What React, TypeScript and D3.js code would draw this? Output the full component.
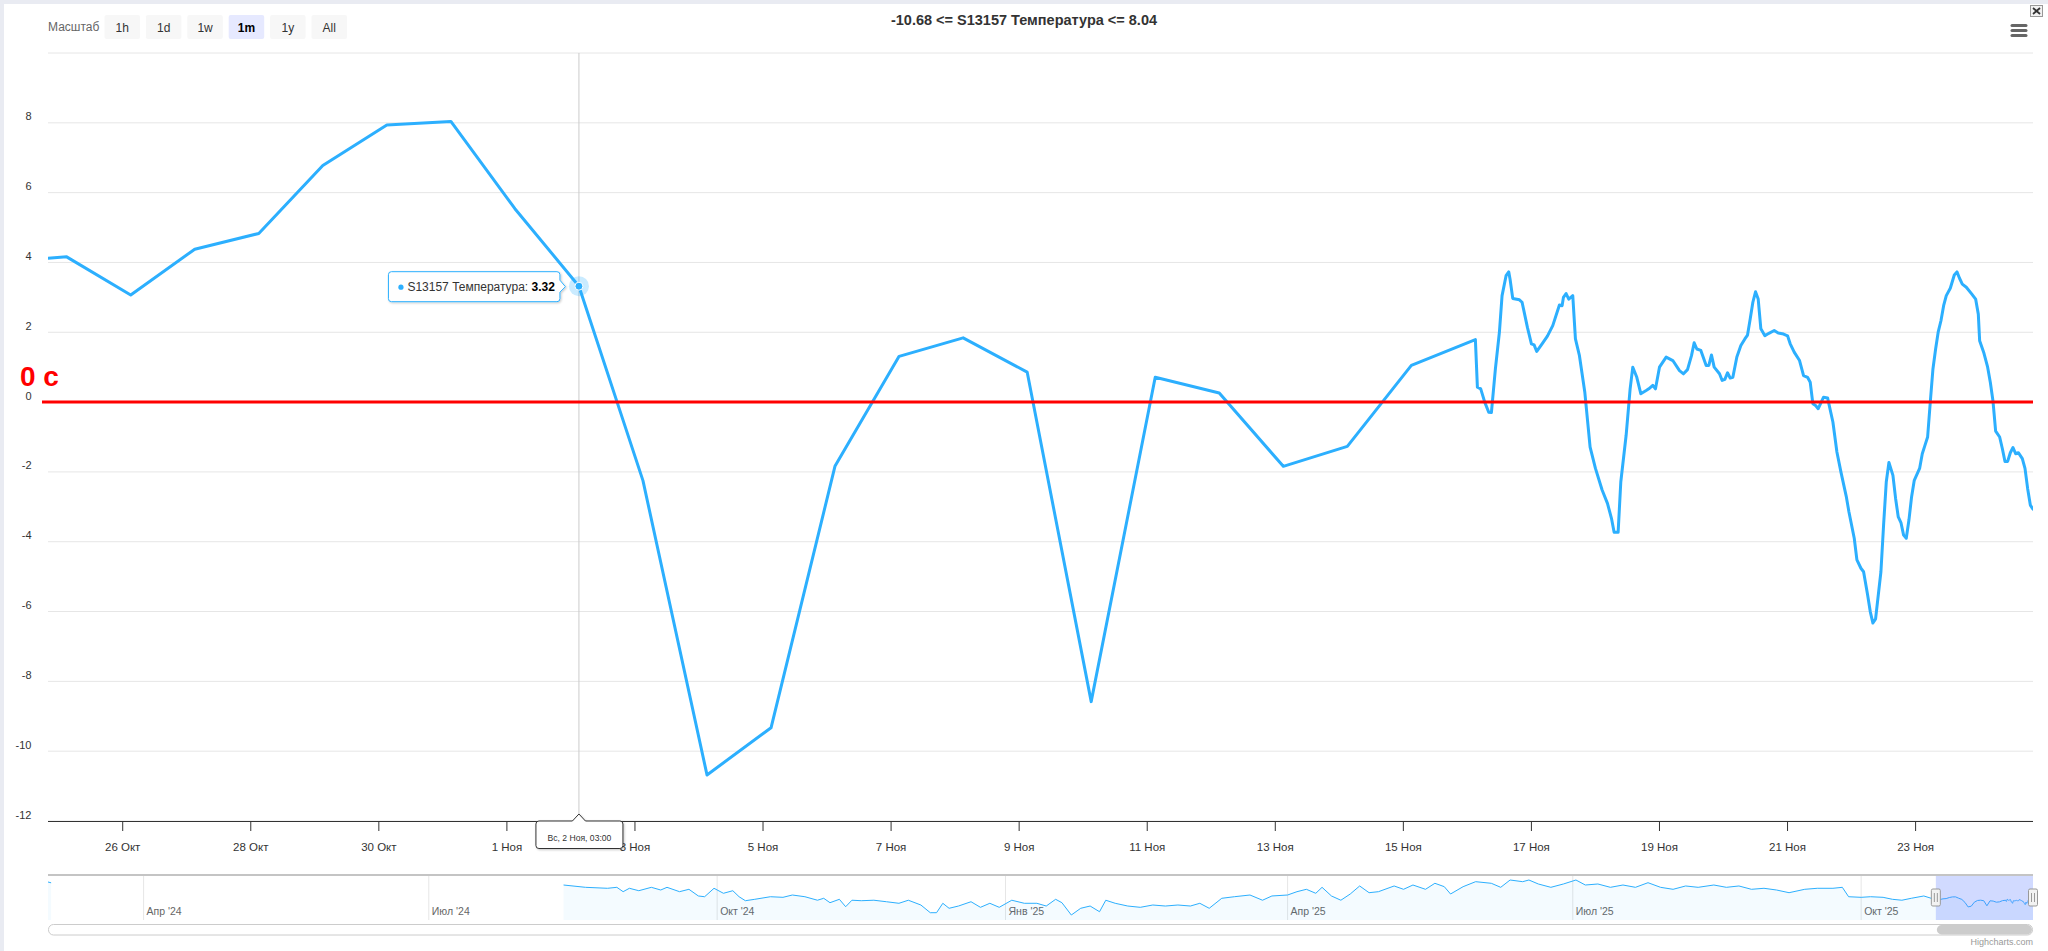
import React from "react";
import * as d3 from "d3";

// ---------------- DATA ----------------
const SERIES_NAME = "S13157 Температура";
const MONTHS_RU = ["Янв", "Фев", "Мар", "Апр", "Май", "Июн", "Июл", "Авг", "Сен", "Окт", "Ноя", "Дек"];
const WEEKDAYS_RU = ["Вс", "Пн", "Вт", "Ср", "Чт", "Пт", "Сб"];
const RANGE_BUTTONS = ["1h", "1d", "1w", "1m", "1y", "All"];
const SELECTED_BUTTON = "1m";
const RANGE_LABEL = "Масштаб";
const ZERO_LABEL = "0 c";
const CREDIT = "Highcharts.com";

// daily readings at 03:00 (UTC used as display time)
const DAILY_START = "2025-10-24T03:00:00Z";
const DAILY_VALUES = [
  4.02, 4.16, 3.07, 4.38, 4.83, 6.78, 7.94, 8.04, 5.54, 3.32, -2.25, -10.68,
  -9.33, -1.83, 1.31, 1.84, 0.86, -8.58, 0.71, 0.26, -1.84, -1.27, 1.05, 1.79,
];

// denser readings: [hours after DENSE_START, value]
const DENSE_START = "2025-11-16T00:00:00Z";
const DENSE: [number, number][] = [
  [3.75, 0.43], [5, 0.38], [6.5, 0.0], [8, -0.29], [9, -0.3], [10.5, 0.95], [12, 2.0], [13, 3.05],
  [14.5, 3.62], [15.5, 3.73], [16, 3.52], [17, 2.97], [19.5, 2.93], [20.5, 2.86], [22.5, 2.14],
  [24, 1.67], [25, 1.64], [26, 1.45], [28, 1.67], [30, 1.89], [32, 2.19], [34.5, 2.78], [35.5, 2.76],
  [36, 3.0], [37, 3.11], [38, 2.95], [39.5, 3.05], [40.5, 1.81], [42, 1.33], [44, 0.29], [46, -1.29],
  [48, -1.9], [50.5, -2.52], [52.5, -2.9], [54, -3.33], [55, -3.73], [56.5, -3.73], [57.5, -2.29],
  [59.5, -0.95], [61, 0.38], [62, 1.0], [63.5, 0.71], [65, 0.24], [67, 0.33], [68, 0.38], [69.5, 0.48],
  [70.5, 0.38], [72, 1.0], [74.5, 1.29], [77, 1.19], [79.5, 0.9], [81, 0.81], [82.5, 0.93], [84, 1.33],
  [85, 1.7], [86, 1.52], [87.5, 1.48], [89.5, 1.05], [90.5, 1.05], [91.5, 1.35], [92.5, 1.0],
  [94.5, 0.81], [95.5, 0.62], [96.5, 0.65], [97.5, 0.84], [98.5, 0.69], [99.5, 0.71], [101, 1.29],
  [102.5, 1.62], [104, 1.81], [105, 1.92], [106, 2.38], [107, 2.86], [108, 3.16], [109, 2.95],
  [110, 2.1], [111.5, 1.9], [113, 1.97], [115, 2.05], [116.5, 1.98], [118.5, 1.95], [120, 1.9],
  [121, 1.67], [122.5, 1.43], [124.5, 1.19], [126, 0.76], [127.5, 0.71], [128.5, 0.57], [129.5, -0.05],
  [130.5, -0.1], [131.5, -0.19], [132.5, -0.02], [133.5, 0.14], [135, 0.12], [137, -0.57], [138.5, -1.43],
  [140, -2.0], [142, -2.7], [143, -3.14], [145, -3.9], [146, -4.52], [147.5, -4.76], [148.5, -4.86],
  [150, -5.52], [151, -6.0], [152, -6.33], [153, -6.21], [155, -4.86], [156, -3.52], [157, -2.29],
  [158, -1.73], [159.5, -2.1], [160.5, -2.76], [161.5, -3.29], [162.5, -3.45], [163.5, -3.81],
  [164.5, -3.9], [165.5, -3.38], [166.5, -2.71], [167.5, -2.24], [169.5, -1.9], [170.5, -1.48],
  [171.5, -1.24], [172.5, -1.0], [173.5, 0.0], [174.5, 0.95], [175.5, 1.52], [176.5, 2.02],
  [177.5, 2.33], [178.5, 2.76], [179.5, 3.05], [181, 3.26], [182.5, 3.64], [183.5, 3.73], [184.5, 3.54],
  [185.5, 3.38], [187, 3.29], [189, 3.1], [190.5, 2.95], [191.5, 2.52], [192, 1.76], [193.5, 1.43],
  [195, 1.0], [196, 0.57], [197, 0.03], [198, -0.83], [199.5, -1.0], [200.5, -1.33], [201.5, -1.7],
  [202.5, -1.7], [203.5, -1.45], [204.5, -1.3], [205.5, -1.48], [206.5, -1.45], [208, -1.62],
  [209, -1.9], [210, -2.48], [211, -2.95], [212, -3.07],
];

// older history only visible in the navigator (null = gap)
const NAV_HISTORY: [string, number | null][] = [
  ["2024-03-01T12:00:00Z", 35.7], ["2024-03-02T12:00:00Z", 34.2], ["2024-03-03T12:00:00Z", null],
  ["2024-08-13", 30.1], ["2024-08-20", 25.8], ["2024-08-27", 24.0], ["2024-08-30", 25.8], ["2024-09-01", 17.7],
  ["2024-09-03", 24.0], ["2024-09-06", 19.5], ["2024-09-10", 25.8], ["2024-09-13", 20.8], ["2024-09-15", 25.8],
  ["2024-09-19", 17.7], ["2024-09-22", 22.1], ["2024-09-25", 9.7], ["2024-09-27", 8.3], ["2024-09-30", 24.0],
  ["2024-10-03", 14.7], ["2024-10-06", 19.5], ["2024-10-08", 8.3], ["2024-10-10", 0.9], ["2024-10-13", 3.5],
  ["2024-10-18", 8.3], ["2024-10-22", 7.2], ["2024-10-25", 11.5], ["2024-10-29", 8.3], ["2024-11-02", 1.8],
  ["2024-11-04", 5.4], ["2024-11-06", -2.8], ["2024-11-09", 3.5], ["2024-11-11", -10.3], ["2024-11-13", 1.8],
  ["2024-11-16", 0.9], ["2024-11-20", 1.8], ["2024-11-24", -1.0], ["2024-11-28", -3.9], ["2024-12-01", 1.8],
  ["2024-12-05", -7.1], ["2024-12-08", -21.4], ["2024-12-10", -21.4], ["2024-12-12", -3.9], ["2024-12-14", -13.2],
  ["2024-12-17", -9.0], ["2024-12-21", -1.0], ["2024-12-24", -11.4], ["2024-12-27", -3.9], ["2024-12-30", -11.4],
  ["2025-01-03", 1.8], ["2025-01-07", -3.9], ["2025-01-11", -3.9], ["2025-01-14", -9.0], ["2025-01-17", 3.5],
  ["2025-01-19", -2.8], ["2025-01-22", -25.7], ["2025-01-25", -13.2], ["2025-01-28", -9.0], ["2025-01-31", -19.6],
  ["2025-02-02", 1.8], ["2025-02-05", -3.9], ["2025-02-09", -9.0], ["2025-02-13", -11.4], ["2025-02-17", -7.1],
  ["2025-02-21", -9.0], ["2025-02-25", -7.1], ["2025-03-01", -9.0], ["2025-03-04", -3.9], ["2025-03-07", -13.2],
  ["2025-03-11", 5.4], ["2025-03-15", 8.3], ["2025-03-20", 11.5], ["2025-03-24", 1.8], ["2025-03-27", 9.7],
  ["2025-04-01", 11.5], ["2025-04-04", 17.7], ["2025-04-07", 22.1], ["2025-04-10", 14.7], ["2025-04-12", 25.8],
  ["2025-04-15", 9.7], ["2025-04-18", 1.8], ["2025-04-21", 13.4], ["2025-04-24", 28.3], ["2025-04-27", 15.8],
  ["2025-04-30", 17.7], ["2025-05-05", 28.3], ["2025-05-08", 22.1], ["2025-05-11", 30.1], ["2025-05-15", 22.1],
  ["2025-05-18", 33.3], ["2025-05-21", 27.0], ["2025-05-23", 13.4], ["2025-05-27", 27.0], ["2025-05-31", 36.3],
  ["2025-06-05", 33.3], ["2025-06-08", 25.8], ["2025-06-11", 39.4], ["2025-06-15", 36.3], ["2025-06-17", 39.4],
  ["2025-06-20", 32.0], ["2025-06-24", 25.8], ["2025-06-28", 32.0], ["2025-07-02", 39.4], ["2025-07-05", 30.1],
  ["2025-07-09", 32.0], ["2025-07-13", 25.8], ["2025-07-17", 30.1], ["2025-07-21", 25.8], ["2025-07-25", 34.4],
  ["2025-07-29", 25.8], ["2025-08-02", 22.1], ["2025-08-06", 28.3], ["2025-08-10", 25.8], ["2025-08-15", 30.1],
  ["2025-08-19", 25.8], ["2025-08-23", 28.3], ["2025-08-27", 22.1], ["2025-08-31", 24.0], ["2025-09-04", 20.8],
  ["2025-09-08", 15.8], ["2025-09-13", 22.1], ["2025-09-17", 24.0], ["2025-09-22", 24.0], ["2025-09-25", 25.8],
  ["2025-09-27", 8.3], ["2025-10-01", 7.2], ["2025-10-04", 8.3], ["2025-10-08", 7.2], ["2025-10-11", 3.5],
  ["2025-10-14", 1.8], ["2025-10-17", 5.4], ["2025-10-21", 9.7],
];

const Y_GRID = [-12, -10, -8, -6, -4, -2, 0, 2, 4, 6, 8, 10];
const Y_LABELS = [-12, -10, -8, -6, -4, -2, 0, 2, 4, 6, 8];
const HOVER_TIME = "2025-11-02T03:00:00Z";
const NAV_Y_DOMAIN = [-35, 45];

// ---------------- LAYOUT ----------------
const W = 2048;
const H = 951;
const PL = 48;
const PR = 2033;
const PT = 53;
const PB = 821;
const NAV_TOP = 875;
const NAV_BOTTOM = 920;
const FONT = "'Liberation Sans', Arial, Helvetica, sans-serif";
const BLUE = "#2caffe";

type Pt = { t: Date; v: number | null };

function buildMain(): Pt[] {
  const start = new Date(DAILY_START);
  const daily = DAILY_VALUES.map((v, i) => ({ t: d3.utcDay.offset(start, i), v }));
  const ds = new Date(DENSE_START).getTime();
  const dense = DENSE.map(([h, v]) => ({ t: new Date(ds + h * 3600 * 1000), v }));
  return [...daily, ...dense];
}

export default function App() {
  const main = buildMain();
  const xMax = main[main.length - 1].t;
  const xMin = d3.utcMonth.offset(xMax, -1);
  const x = d3.scaleUtc().domain([xMin, xMax]).range([PL, PR]);
  const y = d3.scaleLinear().domain([-12, 10]).range([PB, PT]);

  const line = d3
    .line<Pt>()
    .defined((d) => d.v !== null)
    .x((d) => x(d.t))
    .y((d) => y(d.v as number));

  // ticks every 2 days starting from 26 Oct
  const firstTick = new Date("2025-10-26T00:00:00Z");
  const xTicks = d3.utcDay.range(firstTick, xMax).filter((_, i) => i % 2 === 0);
  const fmtTick = (d: Date) => `${d.getUTCDate()} ${MONTHS_RU[d.getUTCMonth()]}`;

  const visible = main.filter((d) => d.t >= xMin && d.t <= xMax);
  const vMin = d3.min(visible, (d) => d.v as number) as number;
  const vMax = d3.max(visible, (d) => d.v as number) as number;
  const title = `${vMin.toFixed(2)} <= ${SERIES_NAME} <= ${vMax.toFixed(2)}`;

  const hoverT = new Date(HOVER_TIME);
  const hover = main.find((d) => d.t.getTime() === hoverT.getTime()) as Pt;
  const hx = x(hover.t);
  const hy = y(hover.v as number);
  const pad2 = (n: number) => String(n).padStart(2, "0");
  const hoverLabel = `${WEEKDAYS_RU[hover.t.getUTCDay()]}, ${hover.t.getUTCDate()} ${MONTHS_RU[hover.t.getUTCMonth()]}, ${pad2(
    hover.t.getUTCHours()
  )}:${pad2(hover.t.getUTCMinutes())}`;

  // navigator
  const navData: Pt[] = [
    ...NAV_HISTORY.map(([s, v]) => ({ t: new Date(s), v })),
    ...main.filter((d) => d.t > new Date("2025-10-21T12:00:00Z")),
  ];
  const nx = d3.scaleUtc().domain([navData[0].t, xMax]).range([PL, PR]);
  const ny = d3.scaleLinear().domain(NAV_Y_DOMAIN).range([NAV_BOTTOM, NAV_TOP + 2]);
  const navLine = d3
    .line<Pt>()
    .defined((d) => d.v !== null)
    .x((d) => nx(d.t))
    .y((d) => ny(d.v as number));
  const navArea = d3
    .area<Pt>()
    .defined((d) => d.v !== null)
    .x((d) => nx(d.t))
    .y0(NAV_BOTTOM)
    .y1((d) => ny(d.v as number));
  const navTicks = d3.utcMonth.every(3)!.range(navData[0].t, xMax);
  const fmtNav = (d: Date) => `${MONTHS_RU[d.getUTCMonth()]} '${String(d.getUTCFullYear()).slice(2)}`;
  const maskL = nx(xMin);
  const maskR = nx(xMax);

  const btnW = 35.5;
  const btnStep = 41.4;
  const btnX0 = 104.5;

  return (
    <svg
      width={W}
      height={H}
      style={{ position: "absolute", left: 0, top: 0, fontFamily: FONT }}
      xmlns="http://www.w3.org/2000/svg"
    >
      <defs>
        <clipPath id="plotClip">
          <rect x={PL} y={PT - 2} width={PR - PL} height={PB - PT + 4} />
        </clipPath>
        <filter id="shadow" x="-20%" y="-40%" width="140%" height="180%">
          <feDropShadow dx="1" dy="1" stdDeviation="1.2" floodColor="#000" floodOpacity="0.22" />
        </filter>
      </defs>
      <rect x={0} y={0} width={W} height={H} fill="#e9ebf2" />
      <rect x={4} y={4} width={W - 4} height={H - 4} fill="#ffffff" />

      {/* range selector */}
      <text x={48} y={31} fontSize={12} fill="#666666">
        {RANGE_LABEL}
      </text>
      {RANGE_BUTTONS.map((b, i) => {
        const bx = btnX0 + i * btnStep;
        const sel = b === SELECTED_BUTTON;
        return (
          <g key={b}>
            <rect x={bx} y={15} width={btnW} height={24} rx={2} fill={sel ? "#e6e9ff" : "#f7f7f7"} />
            <text
              x={bx + btnW / 2}
              y={31.5}
              textAnchor="middle"
              fontSize={12}
              fontWeight={sel ? "bold" : "normal"}
              fill={sel ? "#000000" : "#333333"}
            >
              {b}
            </text>
          </g>
        );
      })}

      {/* title */}
      <text x={W / 2} y={25} textAnchor="middle" fontSize={14.5} fontWeight="bold" fill="#333333">
        {title}
      </text>

      {/* context menu & close */}
      <g stroke="#666666" strokeWidth={3} strokeLinecap="round">
        {[25.5, 30.5, 35.5].map((yy) => (
          <line key={yy} x1={2012} x2={2026} y1={yy} y2={yy} />
        ))}
      </g>
      <rect x={2030.5} y={5.5} width={12} height={11} fill="#f2f2f2" stroke="#999999" />
      <g stroke="#333333" strokeWidth={1.8}>
        <line x1={2033} y1={8} x2={2040} y2={14} />
        <line x1={2040} y1={8} x2={2033} y2={14} />
      </g>

      {/* grid */}
      {Y_GRID.map((v) => (
        <line key={v} x1={PL} x2={PR} y1={y(v)} y2={y(v)} stroke="#e6e6e6" strokeWidth={1} />
      ))}
      {Y_LABELS.map((v) => (
        <text key={v} x={31.5} y={y(v) - 2.5} textAnchor="end" fontSize={11} fill="#333333">
          {v}
        </text>
      ))}

      {/* crosshair */}
      <line x1={hx} x2={hx} y1={PT} y2={PB} stroke="#cccccc" strokeWidth={1} />

      {/* series */}
      <g clipPath="url(#plotClip)">
        <path d={line(main) || ""} fill="none" stroke={BLUE} strokeWidth={3} strokeLinejoin="round" strokeLinecap="round" />
      </g>

      {/* zero plot line + label */}
      <line x1={42} x2={PR} y1={y(0)} y2={y(0)} stroke="#ff0000" strokeWidth={3} />
      <text x={20} y={386} fontSize={28} fontWeight="bold" fill="#ff0000">
        {ZERO_LABEL}
      </text>

      {/* x axis */}
      <line x1={PL} x2={PR} y1={PB + 0.5} y2={PB + 0.5} stroke="#333333" strokeWidth={1} />
      {xTicks.map((t) => (
        <g key={t.getTime()}>
          <line x1={x(t)} x2={x(t)} y1={PB} y2={PB + 10} stroke="#333333" strokeWidth={1} />
          <text x={x(t)} y={850.5} textAnchor="middle" fontSize={11.5} fill="#333333">
            {fmtTick(t)}
          </text>
        </g>
      ))}

      {/* hover marker */}
      <circle cx={hx} cy={hy} r={10} fill={BLUE} fillOpacity={0.25} />
      <circle cx={hx} cy={hy} r={4} fill={BLUE} stroke="#ffffff" strokeWidth={1} />

      {/* tooltip */}
      <g filter="url(#shadow)">
        <path
          d={`M ${hx - 187.5} ${hy - 14.5} H ${hx - 22} Q ${hx - 19} ${hy - 14.5} ${hx - 19} ${hy - 11.5} V ${hy - 6} L ${
            hx - 13.5
          } ${hy + 0.5} L ${hx - 19} ${hy + 6} V ${hy + 12.5} Q ${hx - 19} ${hy + 15.5} ${hx - 22} ${hy + 15.5} H ${
            hx - 187.5
          } Q ${hx - 190.5} ${hy + 15.5} ${hx - 190.5} ${hy + 12.5} V ${hy - 11.5} Q ${hx - 190.5} ${hy - 14.5} ${
            hx - 187.5
          } ${hy - 14.5} Z`}
          fill="#ffffff"
          fillOpacity={0.95}
          stroke={BLUE}
          strokeWidth={1}
        />
      </g>
      <circle cx={hx - 178} cy={hy + 1} r={2.6} fill={BLUE} />
      <text x={hx - 171.5} y={hy + 5} fontSize={12} fill="#333333">
        {SERIES_NAME}:{" "}
        <tspan fontWeight="bold" fill="#000000">
          {(hover.v as number).toFixed(2)}
        </tspan>
      </text>

      {/* x crosshair label */}
      <g filter="url(#shadow)">
        <path
          d={`M ${hx - 40} ${PB} H ${hx - 6.5} L ${hx} ${PB - 7} L ${hx + 6.5} ${PB} H ${hx + 41} Q ${hx + 44} ${PB} ${hx + 44} ${
            PB + 3
          } V ${PB + 24.5} Q ${hx + 44} ${PB + 27.5} ${hx + 41} ${PB + 27.5} H ${hx - 40} Q ${hx - 43} ${PB + 27.5} ${hx - 43} ${
            PB + 24.5
          } V ${PB + 3} Q ${hx - 43} ${PB} ${hx - 40} ${PB} Z`}
          fill="#ffffff"
          stroke="#333333"
          strokeWidth={1}
        />
      </g>
      <text x={hx + 0.5} y={PB + 19.5} textAnchor="middle" fontSize={8.6} fill="#333333">
        {hoverLabel}
      </text>

      {/* navigator */}
      {navTicks.map((t) => (
        <g key={t.getTime()}>
          <line x1={nx(t)} x2={nx(t)} y1={NAV_TOP} y2={NAV_BOTTOM} stroke="#e6e6e6" strokeWidth={1} />
          <text x={nx(t) + 3} y={915} fontSize={10.5} fill="#666666">
            {fmtNav(t)}
          </text>
        </g>
      ))}
      <path d={navArea(navData) || ""} fill={BLUE} fillOpacity={0.05} />
      <path d={navLine(navData) || ""} fill="none" stroke={BLUE} strokeWidth={1} />
      <rect x={maskL} y={NAV_TOP} width={maskR - maskL} height={NAV_BOTTOM - NAV_TOP} fill="rgba(102,133,255,0.3)" />
      <line x1={PL} x2={PR} y1={NAV_TOP} y2={NAV_TOP} stroke="#c4c4c4" strokeWidth={2} />
      {[maskL, maskR].map((hxx, i) => (
        <g key={i}>
          <rect x={hxx - 4.5} y={889} width={9} height={17} rx={1.5} fill="#f2f2f2" stroke="#999999" strokeWidth={1} />
          <line x1={hxx - 1.5} x2={hxx - 1.5} y1={893} y2={902} stroke="#999999" />
          <line x1={hxx + 1.5} x2={hxx + 1.5} y1={893} y2={902} stroke="#999999" />
        </g>
      ))}

      {/* scrollbar */}
      <rect x={PL + 0.5} y={924.5} width={PR - PL - 1} height={10.5} rx={5} fill="#ffffff" stroke="#cccccc" />
      <rect x={maskL + 1} y={925} width={maskR - maskL - 2} height={9.5} rx={4.75} fill="#cccccc" />

      {/* credits */}
      <text x={PR} y={945} textAnchor="end" fontSize={9} fill="#999999">
        {CREDIT}
      </text>
    </svg>
  );
}
